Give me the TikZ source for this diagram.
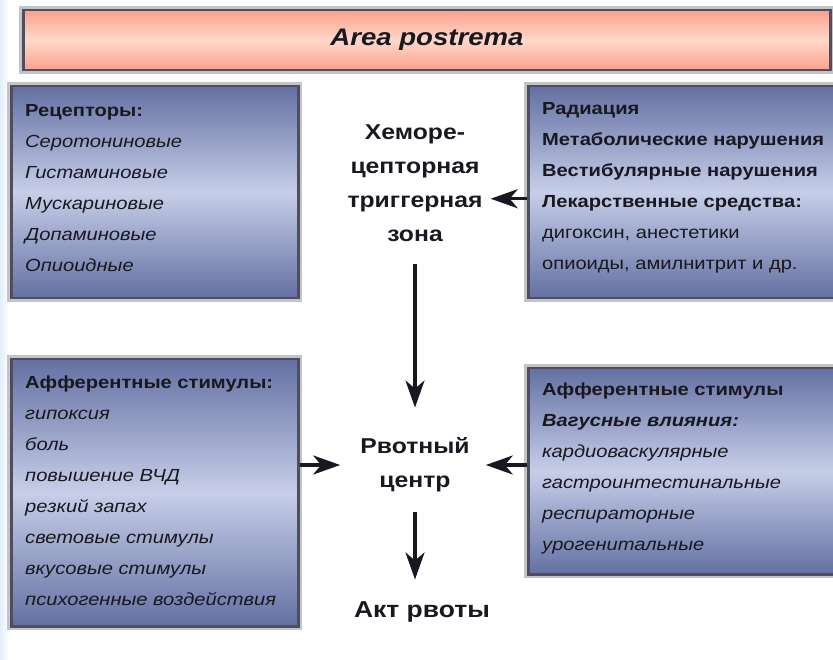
\documentclass[tikz,border=0pt]{standalone}
\usepackage{fontspec}
\setmainfont{Liberation Sans}[FakeStretch=1.15]
\usepackage{xcolor}
\usetikzlibrary{arrows.meta,positioning}

\definecolor{boxdark}{RGB}{100,112,162}
\definecolor{boxlight}{RGB}{198,206,232}
\definecolor{boxedge}{RGB}{78,78,96}
\definecolor{shadegray}{RGB}{196,196,196}
\definecolor{barout}{RGB}{250,160,140}
\definecolor{barin}{RGB}{255,216,202}
\definecolor{inktext}{RGB}{24,24,32}
\definecolor{paleblue}{RGB}{226,238,248}

\tikzset{
  panel/.style={draw=boxedge,line width=2.5pt,top color=boxdark,bottom color=boxdark,middle color=boxlight,
    preaction={draw=shadegray,line width=8pt},anchor=north west,inner sep=0pt},
  postbar/.style={draw=boxedge,line width=2.5pt,top color=barout,bottom color=barout,middle color=barin,
    preaction={draw=shadegray,line width=8pt}},
  boxtext/.style={anchor=north west,inner sep=0pt,align=left,text=inktext,font=\fontsize{17.5}{31}\selectfont},
  midtext/.style={inner sep=0pt,align=center,text=inktext,font=\fontsize{21.5}{34}\selectfont\bfseries},
  arr/.style={line width=3.2pt,draw=inktext,-{Stealth[length=27pt,width=19pt,inset=8pt]}}
}

\begin{document}
\begin{tikzpicture}[x=1pt,y=-1pt]
\clip (0,0) rectangle (833,660);
\fill[white] (0,0) rectangle (833,660);
\shade[left color=paleblue,right color=white] (0,0) rectangle (9,660);

% top bar
\node[postbar,anchor=north west,inner sep=0pt,minimum width=807pt,minimum height=60pt] (bar) at (22,9) {};
\node[font=\fontsize{24}{26}\selectfont\bfseries\itshape,text=inktext] (ap) at (427,40) {Area postrema};

% boxes
\node[panel,minimum width=287pt,minimum height=212pt] (tl) at (10,85) {};
\node[panel,minimum width=312pt,minimum height=212pt] (tr) at (527,85) {};
\node[panel,minimum width=287pt,minimum height=267pt] (bl) at (10,358) {};
\node[panel,minimum width=312pt,minimum height=206pt] (br) at (527,367) {};

% box texts
\node[boxtext] (tltext) at (25,104) {\textbf{Рецепторы:}\\\textit{Серотониновые}\\\textit{Гистаминовые}\\\textit{Мускариновые}\\\textit{Допаминовые}\\\textit{Опиоидные}};
\node[boxtext] (trtext) at (542,102) {\textbf{Радиация}\\\textbf{Метаболические нарушения}\\\textbf{Вестибулярные нарушения}\\\textbf{Лекарственные средства:}\\дигоксин, анестетики\\опиоиды, амилнитрит и др.};
\node[boxtext] (bltext) at (25,376) {\textbf{Афферентные стимулы:}\\\textit{гипоксия}\\\textit{боль}\\\textit{повышение ВЧД}\\\textit{резкий запах}\\\textit{световые стимулы}\\\textit{вкусовые стимулы}\\\textit{психогенные воздействия}};
\node[boxtext] (brtext) at (542,383) {\textbf{Афферентные стимулы}\\\textbf{\textit{Вагусные влияния:}}\\\textit{кардиоваскулярные}\\\textit{гастроинтестинальные}\\\textit{респираторные}\\\textit{урогенитальные}};

% centre
\node[midtext] (ctz) at (415,183) {Хеморе-\\цепторная\\триггерная\\зона};
\node[midtext] (vc) at (415,465) {Рвотный\\центр};
\node[midtext,font=\fontsize{23}{26}\selectfont\bfseries] (act) at (422,612) {Акт рвоты};

% arrows
\draw[arr] ([yshift=-6.5pt]tr.west) -- ([yshift=-6.5pt,xshift=8pt]ctz.east |- tr.west);
\draw[arr] ([yshift=-22pt]ctz.south) -- ([yshift=30pt]vc.north);
\draw[arr] (bl.east |- vc.west) -- ([xshift=-20pt]vc.west);
\draw[arr] (br.west |- vc.east) -- ([xshift=16pt]vc.east);
\draw[arr] ([yshift=-20pt]vc.south) -- ([yshift=22pt]act.north -| vc.south);
\end{tikzpicture}
\end{document}
